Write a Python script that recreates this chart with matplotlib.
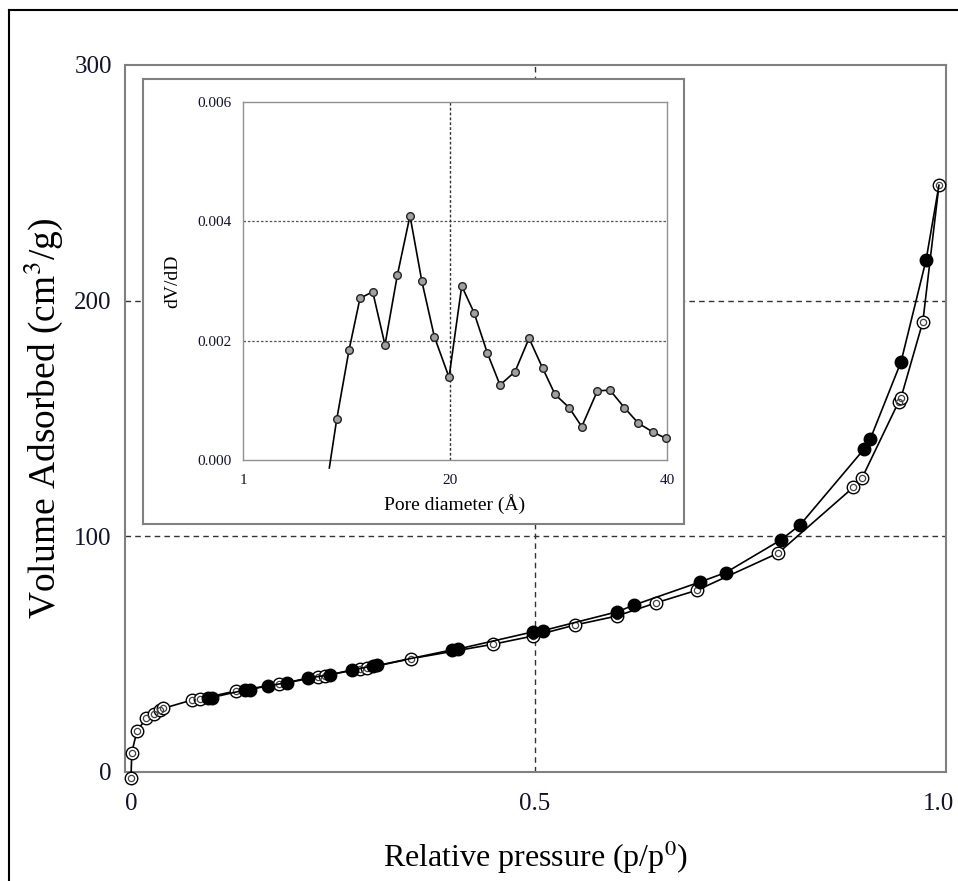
import matplotlib
matplotlib.use("Agg")
import matplotlib.pyplot as plt
from matplotlib.lines import Line2D

plt.rcParams["font.family"] = ["Liberation Serif", "DejaVu Serif"]
plt.rcParams["mathtext.fontset"] = "stix"

# adsorption branch (open markers)
ads_p = [0.000, 0.001, 0.0074, 0.019, 0.029, 0.036, 0.040, 0.075, 0.085,
         0.130, 0.183, 0.231, 0.240, 0.283, 0.292, 0.347, 0.448, 0.4975,
         0.550, 0.6015, 0.650, 0.701, 0.801, 0.894, 0.905, 0.950, 0.953,
         0.980, 1.000]
ads_v = [-2.5, 8.2, 17.5, 22.8, 24.6, 26.3, 27.0, 30.5, 31.0,
         34.4, 37.3, 40.3, 40.9, 43.7, 44.1, 48.1, 54.2, 57.7,
         62.4, 66.2, 71.8, 77.2, 92.9, 120.8, 124.9, 157.0, 158.8,
         191.0, 249.0]

# desorption branch (filled markers), starting from the top point
des_p = [1.000, 0.984, 0.953, 0.915, 0.907, 0.828, 0.804, 0.736, 0.704,
         0.623, 0.602, 0.510, 0.498, 0.405, 0.397, 0.305, 0.300, 0.273,
         0.246, 0.219, 0.193, 0.170, 0.147, 0.141, 0.100, 0.095]
des_v = [249.0, 217.2, 174.0, 141.3, 136.9, 104.8, 98.4, 84.6, 80.6,
         70.9, 68.0, 60.0, 59.5, 52.2, 51.8, 45.2, 45.0, 43.3,
         41.2, 39.9, 37.9, 36.6, 35.0, 34.8, 31.6, 31.3]

# pore size distribution (inset)
pore_d = [8.94, 9.62, 10.75, 11.76, 12.93, 14.06, 15.2, 16.36, 17.44, 18.6,
          19.95, 21.12, 22.25, 23.48, 24.64, 26.02, 27.31, 28.57, 29.7,
          31.0, 32.16, 33.6, 34.76, 36.08, 37.37, 38.75, 39.9]
dv_dd = [-0.000134, 0.000682, 0.00184, 0.00271, 0.00282, 0.00193, 0.0031,
         0.004094, 0.003005, 0.002067, 0.001386, 0.002916, 0.00247, 0.00179,
         0.001257, 0.00148, 0.00204, 0.001536, 0.0011, 0.000877, 0.000559,
         0.00116, 0.00117, 0.000877, 0.000615, 0.000464, 0.000363]

main_yticks = [0, 100, 200, 300]
main_xticks = [0, 0.5, 1.0]
main_xticklabels = ["0", "0.5", "1.0"]
inset_yticks = [0.000, 0.002, 0.004, 0.006]
inset_xticks = [1, 20, 40]

W, H = 958, 881
fig = plt.figure(figsize=(W / 100, H / 100), dpi=100)


def fig_rect(x0, y0, x1, y1):
    return [x0 / W, 1 - y1 / H, (x1 - x0) / W, (y1 - y0) / H]


tick_color = "#121230"
spine_color = "#808080"

# main isotherm axes
ax = fig.add_axes(fig_rect(125, 65, 946, 772))
ax.set_xlim(-0.0074, 1.0087)
ax.set_ylim(0, 300)
for s in ax.spines.values():
    s.set_color(spine_color)
    s.set_linewidth(1.5)
ax.tick_params(length=0, labelsize=18, labelcolor=tick_color)
ax.tick_params(axis="x", pad=15)
ax.tick_params(axis="y", pad=9.5)
ax.set_xticks(main_xticks)
ax.set_xticklabels(main_xticklabels)
ax.set_yticks(main_yticks)
for yv in [100, 200]:
    ax.axhline(yv, color="#333333", lw=1.0, dashes=(4, 3), zorder=1)
ax.axvline(0.5, color="#333333", lw=1.0, dashes=(4, 3), zorder=1)

ax.set_xlabel("Relative pressure (p/p$^{0}$)", fontsize=23, labelpad=17)
ax.set_ylabel("Volume Adsorbed (cm$^{3}$/g)", fontsize=27, labelpad=7)

ax.plot(ads_p, ads_v, color="black", lw=1.2, marker="o", ms=9,
        mfc="white", mec="black", mew=1.0, clip_on=False, zorder=3)
ax.plot(ads_p, ads_v, ls="none", marker="o", ms=4.5, mfc="none",
        mec="#444444", mew=0.9, clip_on=False, zorder=4)
ax.plot(des_p, des_v, color="black", lw=1.2, marker="o", ms=9,
        mfc="black", mec="black", markevery=list(range(1, len(des_p))),
        clip_on=False, zorder=5)

# inset frame
frame = fig.add_axes(fig_rect(143, 79, 684, 524))
frame.set_xticks([])
frame.set_yticks([])
frame.set_facecolor("white")
for s in frame.spines.values():
    s.set_color(spine_color)
    s.set_linewidth(1.5)

# inset pore size distribution
ins = fig.add_axes(fig_rect(243, 102, 667, 460))
ins.set_xlim(1, 40)
ins.set_ylim(0, 0.006)
for s in ins.spines.values():
    s.set_color("#909090")
    s.set_linewidth(1.0)
ins.tick_params(length=0, labelsize=11, labelcolor=tick_color)
ins.tick_params(axis="x", pad=10)
ins.tick_params(axis="y", pad=8)
ins.set_xticks(inset_xticks)
ins.set_yticks(inset_yticks)
ins.set_yticklabels([f"{v:.3f}" for v in inset_yticks])
for yv in [0.002, 0.004]:
    ins.axhline(yv, color="#555555", lw=0.9, dashes=(2, 1.5), zorder=1)
ins.axvline(20, color="#333333", lw=1.0, dashes=(2, 1.5), zorder=1)
ins.set_xlabel("Pore diameter (Å)", fontsize=14, labelpad=5)
ins.set_ylabel("dV/dD", fontsize=14, labelpad=12)
ins.plot(pore_d, dv_dd, color="black", lw=1.2, marker="o", ms=5.5,
         mfc="#a0a0a0", mec="#222222", mew=1.0,
         markevery=list(range(1, len(pore_d))), clip_on=False, zorder=3)

# outer border lines (top and left)
fig.add_artist(Line2D([9 / W, 1.0], [1 - 10 / H, 1 - 10 / H],
                      color="black", lw=1.5))
fig.add_artist(Line2D([9 / W, 9 / W], [0.0, 1 - 10 / H],
                      color="black", lw=1.5))

fig.savefig("out.png", dpi=100)
